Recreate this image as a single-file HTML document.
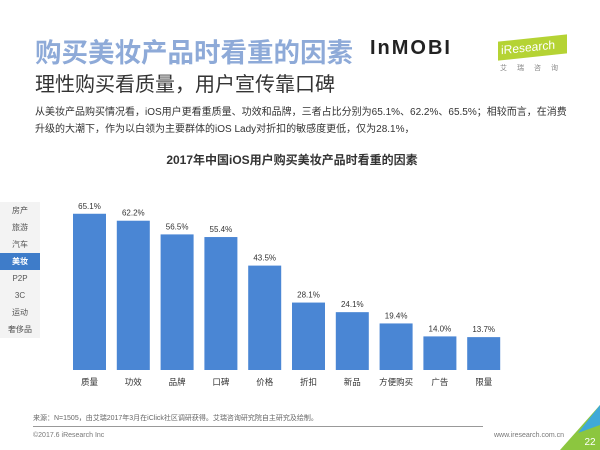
<!DOCTYPE html>
<html><head><meta charset="utf-8"><style>
body{margin:0;width:600px;height:450px;background:#fff;position:relative;overflow:hidden;font-family:"Liberation Sans","Noto Sans CJK SC",sans-serif}
.a{position:absolute;white-space:nowrap}
</style></head><body>
<div class="a" style="left:35px;top:31px;font-size:26.5px;font-weight:bold;color:#8eaad8;letter-spacing:0px">购买美妆产品时看重的因素</div>
<div class="a" style="left:370px;top:37px;font-size:20px;font-weight:bold;color:#222;letter-spacing:2px">InMOBI</div>
<div class="a" style="left:498px;top:38px;width:66px;height:19px;background:#b5d334;transform:skewY(-6deg);color:#fff;font-size:12px;line-height:19px;padding-left:3px">iResearch</div>
<div class="a" style="left:500px;top:63px;font-size:7px;color:#888;letter-spacing:10px">艾瑞咨询</div>
<div class="a" style="left:35px;top:68px;font-size:20px;color:#333">理性购买看质量，用户宣传靠口碑</div>
<div class="a" style="left:35px;top:104px;font-size:10px;color:#333;line-height:17px">从美妆产品购买情况看，iOS用户更看重质量、功效和品牌，三者占比分别为65.1%、62.2%、65.5%；相较而言，在消费<br>升级的大潮下，作为以白领为主要群体的iOS Lady对折扣的敏感度更低，仅为28.1%，</div>
<div class="a" style="left:0;width:584px;text-align:center;top:151px;font-size:12px;font-weight:bold;color:#333">2017年中国iOS用户购买美妆产品时看重的因素</div>
<div class="a" style="left:0;top:202px;width:40px;background:#f3f3f3;font-size:8px;color:#555;text-align:center">
<div style="height:17px;line-height:17px">房产</div>
<div style="height:17px;line-height:17px">旅游</div>
<div style="height:17px;line-height:17px">汽车</div>
<div style="height:17px;line-height:17px;background:#3e7cc9;color:#fff;font-weight:bold">美妆</div>
<div style="height:17px;line-height:17px">P2P</div>
<div style="height:17px;line-height:17px">3C</div>
<div style="height:17px;line-height:17px">运动</div>
<div style="height:17px;line-height:17px">奢侈品</div>
</div>
<svg class="a" style="left:0;top:0" width="600" height="450" id="chart"></svg>
<div class="a" style="left:33px;top:413px;font-size:7px;color:#666">来源：N=1505，由艾瑞2017年3月在iClick社区调研获得。艾瑞咨询研究院自主研究及绘制。</div>
<div class="a" style="left:33px;top:426px;width:450px;height:1px;background:#999"></div>
<div class="a" style="left:33px;top:432px;font-size:7px;color:#777">©2017.6 iResearch Inc</div>
<div class="a" style="left:494px;top:432px;font-size:7px;color:#777">www.iresearch.com.cn</div>
<svg class="a" style="left:560px;top:405px" width="40" height="45"><polygon points="40,0 40,45 0,45" fill="#8cc63f"/><polygon points="40,0 40,20 18,28" fill="#3fa9d8"/><text x="30" y="40" font-size="10" fill="#fff" text-anchor="middle" font-family="Liberation Sans">22</text></svg>
<script>
const categories=["质量","功效","品牌","口碑","价格","折扣","新品","方便购买","广告","限量"];
const values=[65.1,62.2,56.5,55.4,43.5,28.1,24.1,19.4,14.0,13.7];
const svg=document.getElementById('chart');
const NS="http://www.w3.org/2000/svg";
const x0=73,step=43.8,bw=33,base=370,k=2.4;
const xs=i=>x0+i*step, ys=v=>base-v*k;
categories.forEach((c,i)=>{
 const r=document.createElementNS(NS,'rect');
 r.setAttribute('x',xs(i));r.setAttribute('y',ys(values[i]));r.setAttribute('width',bw);r.setAttribute('height',values[i]*k);r.setAttribute('fill','#4a86d4');
 
 
 svg.appendChild(r);
 const t=document.createElementNS(NS,'text');
 t.setAttribute('x',xs(i)+bw/2);t.setAttribute('y',ys(values[i])-5);t.setAttribute('text-anchor','middle');t.setAttribute('font-size','8');t.setAttribute('fill','#333');
 t.textContent=values[i].toFixed(1)+'%';
 
 
 svg.appendChild(t);
 const l=document.createElementNS(NS,'text');
 l.setAttribute('x',xs(i)+bw/2);l.setAttribute('y',base+15);l.setAttribute('text-anchor','middle');l.setAttribute('font-size','8.5');l.setAttribute('fill','#333');
 l.textContent=c;
 
 
 svg.appendChild(l);
});
</script>
</body></html>
